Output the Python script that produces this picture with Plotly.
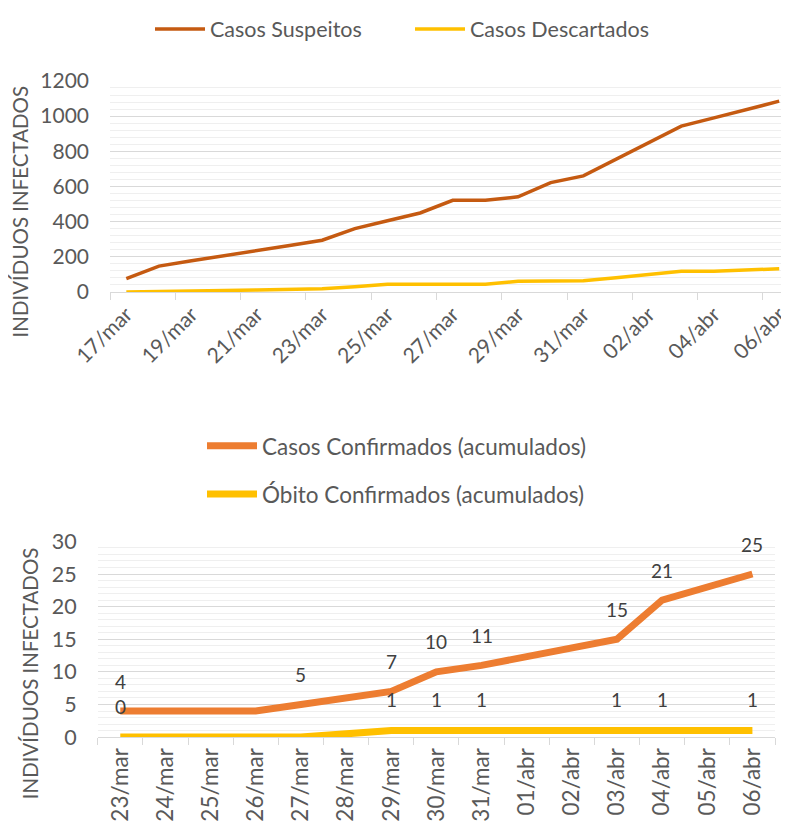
import plotly.graph_objects as go

# ---------------- data ----------------
dias_topo = ["17/mar", "18/mar", "19/mar", "20/mar", "21/mar", "22/mar", "23/mar",
             "24/mar", "25/mar", "26/mar", "27/mar", "28/mar", "29/mar", "30/mar",
             "31/mar", "01/abr", "02/abr", "03/abr", "04/abr", "05/abr", "06/abr"]
casos_suspeitos = [75, 147, 177, 205, 236, 264, 294, 360, 405, 449, 521, 521, 541,
                   622, 660, 755, 850, 943, 990, 1038, 1085]
casos_descartados = [0, 1, 4, 8, 11, 15, 18, 30, 43, 43, 43, 43, 60, 60, 63, 81, 99,
                     117, 117, 125, 132]

dias_base = ["23/mar", "24/mar", "25/mar", "26/mar", "27/mar", "28/mar", "29/mar",
             "30/mar", "31/mar", "01/abr", "02/abr", "03/abr", "04/abr", "05/abr", "06/abr"]
casos_confirmados = [4, 4, 4, 4, 5, None, 7, 10, 11, None, None, 15, 21, None, 25]
rotulos_confirmados = ["4", "", "", "", "5", "", "7", "10", "11", "", "", "15", "21", "", "25"]
obitos_confirmados = [0, 0, 0, 0, 0, None, 1, 1, 1, 1, 1, 1, 1, 1, 1]
rotulos_obitos = ["0", "", "", "", "", "", "1", "1", "1", "", "", "1", "1", "", "1"]

# page has an 8px body margin -> figure occupies 8..789 x 8..822
OFF = 8
W, H = 789 - OFF, 822 - OFF
FONT = "Lato"
TXT = "#595959"
LBL = "#404040"
GRID = "#D9D9D9"
MINOR = "#EFEFEF"

def px_x(p):
    return (p - OFF) / W

def px_y(p):
    return 1 - (p - OFF) / H

fig = go.Figure()

# ---------------- top chart ----------------
fig.add_trace(go.Scatter(x=dias_topo, y=casos_suspeitos, mode="lines", name="Casos Suspeitos",
                         line=dict(color="#C55A11", width=3.5), xaxis="x", yaxis="y",
                         legend="legend"))
fig.add_trace(go.Scatter(x=dias_topo, y=casos_descartados, mode="lines", name="Casos Descartados",
                         line=dict(color="#FFC000", width=3.5), xaxis="x", yaxis="y",
                         legend="legend"))

# ---------------- bottom chart ----------------
fig.add_trace(go.Scatter(x=dias_base, y=casos_confirmados, mode="lines",
                         name="Casos Confirmados (acumulados)", connectgaps=True,
                         line=dict(color="#ED7D31", width=7), xaxis="x2", yaxis="y2",
                         legend="legend2", legendgroup="a"))
fig.add_trace(go.Scatter(x=dias_base, y=obitos_confirmados, mode="lines",
                         name="Óbito Confirmados (acumulados)", connectgaps=True,
                         line=dict(color="#FFC000", width=7), xaxis="x2", yaxis="y2",
                         legend="legend2", legendgroup="b"))

annotations = []
for d, v, t in zip(dias_base, casos_confirmados, rotulos_confirmados):
    if t and v is not None:
        annotations.append(dict(x=d, y=v, xref="x2", yref="y2", text=t, showarrow=False,
                                yshift=30, font=dict(family=FONT, size=19, color=LBL)))
for d, v, t in zip(dias_base, obitos_confirmados, rotulos_obitos):
    if t and v is not None:
        annotations.append(dict(x=d, y=v, xref="x2", yref="y2", text=t, showarrow=False,
                                yshift=31, font=dict(family=FONT, size=19, color=LBL)))

# axis titles
annotations.append(dict(x=px_x(20.5), y=px_y(209), xref="paper", yref="paper",
                        xanchor="center", yanchor="middle",
                        text="INDIVÍDUOS INFECTADOS", textangle=-90, showarrow=False,
                        font=dict(family=FONT, size=20.5, color=TXT)))
annotations.append(dict(x=px_x(29.5), y=px_y(673), xref="paper", yref="paper",
                        xanchor="center", yanchor="middle",
                        text="INDIVÍDUOS INFECTADOS", textangle=-90, showarrow=False,
                        font=dict(family=FONT, size=20.5, color=TXT)))

xaxis_common = dict(type="category", showgrid=False, zeroline=False, showline=True,
                    linecolor=GRID, linewidth=1, ticks="outside", ticklen=7, tickcolor=GRID,
                    tickson="boundaries", automargin=False)

fig.update_layout(
    width=W, height=H,
    margin=dict(l=0, r=0, t=0, b=0),
    paper_bgcolor="white", plot_bgcolor="white",
    font=dict(family=FONT, color=TXT),
    xaxis=dict(**xaxis_common, domain=[px_x(110), 1.0], anchor="y",
               range=[-0.5, 20.3], tickangle=-45,
               tickmode="array", tickvals=dias_topo[::2], ticklabelstandoff=1,
               tickfont=dict(family=FONT, size=21, color=TXT)),
    yaxis=dict(domain=[px_y(289.3), px_y(77.3)], anchor="x", range=[0, 1200], dtick=200,
               showgrid=True, gridcolor=GRID, gridwidth=1, zeroline=False, showline=False,
               ticks="", ticklabelstandoff=20, automargin=False,
               tickfont=dict(family=FONT, size=21, color=TXT),
               minor=dict(dtick=40, showgrid=True, gridcolor=MINOR, gridwidth=1)),
    xaxis2=dict(**xaxis_common, domain=[px_x(97.7), px_x(775)], anchor="y2",
                range=[-0.5, 14.5], tickangle=-90, ticklabelstandoff=1,
                tickfont=dict(family=FONT, size=22.5, color=TXT)),
    yaxis2=dict(domain=[px_y(736.7), px_y(540)], anchor="x2", range=[0, 30], dtick=5,
                showgrid=True, gridcolor=GRID, gridwidth=1, zeroline=False, showline=False,
                ticks="", ticklabelstandoff=20, automargin=False,
                tickfont=dict(family=FONT, size=21.5, color=TXT),
                minor=dict(dtick=1, showgrid=True, gridcolor=MINOR, gridwidth=1)),
    legend=dict(orientation="h", x=px_x(150), xanchor="left", y=px_y(25), yanchor="middle",
                font=dict(family=FONT, size=21.5, color=TXT), itemwidth=50,
                entrywidth=195, entrywidthmode="pixels",
                bgcolor="rgba(0,0,0,0)"),
    legend2=dict(orientation="v", x=px_x(202), xanchor="left", y=px_y(468.5), yanchor="middle",
                 font=dict(family=FONT, size=22.5, color=TXT), itemwidth=50,
                 tracegroupgap=16, bgcolor="rgba(0,0,0,0)"),
    annotations=annotations,
    showlegend=True,
)

fig.write_html("out.html")
